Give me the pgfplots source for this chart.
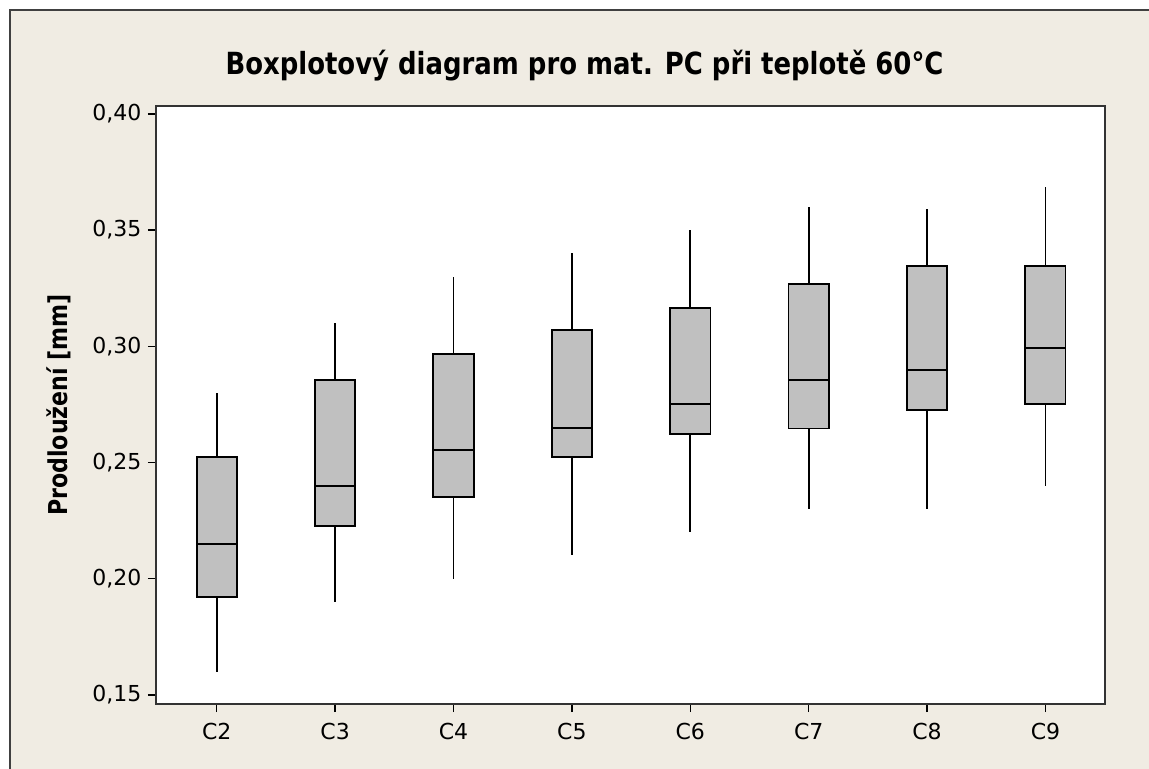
\documentclass[border=0pt]{standalone}
\usepackage{fontspec}
\setmainfont{DejaVu Sans}
\newfontfamily\titlefont{DejaVu Sans}[FakeStretch=0.85]
\usepackage{pgfplots}
\pgfplotsset{compat=1.18}
\usepgfplotslibrary{statistics}
\definecolor{bgbeige}{HTML}{F0ECE3}
\definecolor{framegray}{HTML}{404040}
\definecolor{boxgray}{HTML}{C0C0C0}
\definecolor{axisgray}{HTML}{333333}
\begin{document}
\begin{tikzpicture}
\clip (-156bp,-65bp) rectangle (993bp,704bp);
\fill[white] (-156bp,-65bp) rectangle (993bp,704bp);
\draw[fill=bgbeige, draw=framegray, line width=2bp] (-146bp,-120bp) rectangle (1050bp,694bp);
\begin{axis}[
  at={(0,0)}, anchor=south west,
  scale only axis, width=949bp, height=598bp,
  xmin=-0.513, xmax=7.503, ymin=0.1461, ymax=0.4034,
  axis background/.style={fill=white},
  axis line style={draw=axisgray, line width=1.8bp},
  xtick={0,1,2,3,4,5,6,7},
  xticklabels={C2,C3,C4,C5,C6,C7,C8,C9},
  ytick={0.15,0.20,0.25,0.30,0.35,0.40},
  yticklabel style={xshift=-3bp, /pgf/number format/use comma, /pgf/number format/fixed, /pgf/number format/fixed zerofill, /pgf/number format/precision=2, /pgf/number format/assume math mode=true},
  xticklabel style={yshift=-8bp},
  tick align=outside, tick pos=left,
  major tick length=8bp,
  every tick/.style={draw=black, line width=1.5bp},
  tick label style={font=\fontsize{22bp}{26bp}\selectfont, text=black},
  boxplot/draw direction=y,
  boxplot/box extend=0.34,
  boxplot/whisker extend=0,
  boxplot/every box/.style={draw=black, fill=boxgray, line width=1.8bp},
  boxplot/every whisker/.style={draw=black, line width=1.8bp},
  boxplot/every median/.style={draw=black, line width=1.7bp},
]
\addplot[boxplot prepared={draw position=0, lower whisker=0.160, lower quartile=0.1923, median=0.215, upper quartile=0.2525, upper whisker=0.280}] coordinates {};
\addplot[boxplot prepared={draw position=1, lower whisker=0.190, lower quartile=0.2227, median=0.240, upper quartile=0.2855, upper whisker=0.310}] coordinates {};
\addplot[boxplot prepared={draw position=2, lower whisker=0.200, lower quartile=0.2353, median=0.2554, upper quartile=0.2966, upper whisker=0.330}] coordinates {};
\addplot[boxplot prepared={draw position=3, lower whisker=0.210, lower quartile=0.2525, median=0.2648, upper quartile=0.3071, upper whisker=0.340}] coordinates {};
\addplot[boxplot prepared={draw position=4, lower whisker=0.220, lower quartile=0.2622, median=0.2752, upper quartile=0.3164, upper whisker=0.350}] coordinates {};
\addplot[boxplot prepared={draw position=5, lower whisker=0.230, lower quartile=0.2646, median=0.2855, upper quartile=0.3267, upper whisker=0.360}] coordinates {};
\addplot[boxplot prepared={draw position=6, lower whisker=0.230, lower quartile=0.2726, median=0.2898, upper quartile=0.3346, upper whisker=0.359}] coordinates {};
\addplot[boxplot prepared={draw position=7, lower whisker=0.240, lower quartile=0.2751, median=0.2992, upper quartile=0.3346, upper whisker=0.3685}] coordinates {};
\end{axis}
\node[anchor=base, font=\titlefont\bfseries\fontsize{30.5bp}{36bp}\selectfont] at (428.5bp,629bp) {Boxplotový diagram pro mat. PC při teplotě 60°C};
\node[anchor=base, rotate=90, font=\titlefont\bfseries\fontsize{26bp}{30bp}\selectfont] at (-88bp,299bp) {Prodloužení [mm]};
\end{tikzpicture}
\end{document}
